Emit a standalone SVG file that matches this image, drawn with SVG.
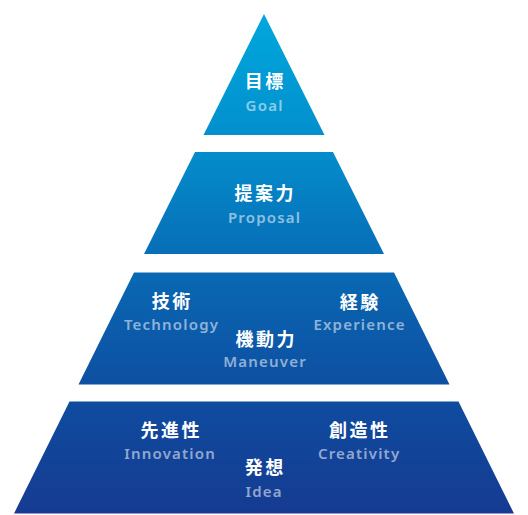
<svg xmlns="http://www.w3.org/2000/svg" width="528" height="515" viewBox="0 0 528 515">
<defs>
<linearGradient id="g" gradientUnits="userSpaceOnUse" x1="0" y1="14" x2="0" y2="514">
<stop offset="0" stop-color="#00a7dd"/>
<stop offset="0.28" stop-color="#038ccb"/>
<stop offset="0.52" stop-color="#0968b3"/>
<stop offset="0.78" stop-color="#0f4b9f"/>
<stop offset="1" stop-color="#153b91"/>
</linearGradient>
</defs>
<style>
.layer{fill:url(#g)}
.jp{font-family:"Noto Sans CJK JP","Noto Sans",sans-serif;font-weight:700;font-size:18px;fill:#ffffff;text-anchor:middle;letter-spacing:2.5px}
.en{font-family:"Noto Sans","Open Sans",sans-serif;font-weight:600;font-size:15px;fill:#ffffff;fill-opacity:0.55;text-anchor:middle;letter-spacing:1.2px}
</style>
<g id="layer-goal">
<polygon class="layer" points="264,14 324.5,135 203.5,135"/>
<text class="jp" x="265.2" y="88">目標</text>
<text class="en" x="264.6" y="111">Goal</text>
</g>
<g id="layer-proposal">
<polygon class="layer" points="195,152 333,152 384,254 144,254"/>
<text class="jp" x="265.2" y="200">提案力</text>
<text class="en" x="264.6" y="222.5">Proposal</text>
</g>
<g id="layer-maneuver">
<polygon class="layer" points="134,272.5 394,272.5 449.5,384.5 78.5,384.5"/>
<text class="jp" x="172.2" y="308">技術</text>
<text class="en" x="171.6" y="330">Technology</text>
<text class="jp" x="360.2" y="308.5">経験</text>
<text class="en" x="359.6" y="330">Experience</text>
<text class="jp" x="266.2" y="345.5">機動力</text>
<text class="en" x="265.1" y="367.3">Maneuver</text>
</g>
<g id="layer-idea">
<polygon class="layer" points="69.5,401.5 458.5,401.5 514,513.5 14,513.5"/>
<text class="jp" x="171.2" y="437">先進性</text>
<text class="en" x="170.1" y="459.3">Innovation</text>
<text class="jp" x="359.7" y="437">創造性</text>
<text class="en" x="359.1" y="459.3">Creativity</text>
<text class="jp" x="265.2" y="474">発想</text>
<text class="en" x="264.1" y="496.7">Idea</text>
</g>
</svg>
